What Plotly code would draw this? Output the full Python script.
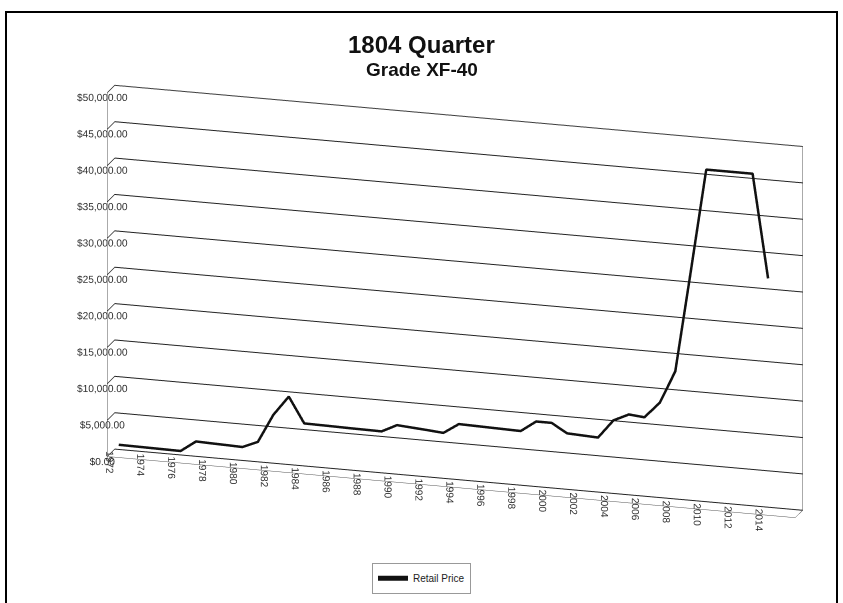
import plotly.graph_objects as go

years = list(range(1972, 2015))
retail_price = [
    1200, 1175, 1150, 1125, 1100,      # 1972-1976
    2600, 2530, 2470, 2400, 3300,      # 1977-1981
    7200, 9900, 6400, 6370, 6340,      # 1982-1986
    6300, 6280, 6250, 7300, 7140,      # 1987-1991
    6980, 6800, 8200, 8150, 8100,      # 1992-1996
    8050, 8000, 9500, 9500, 8250,      # 1997-2001
    8150, 8050, 10600, 11600, 11400,   # 2002-2006
    13600, 18100, 32000, 46200, 46200, # 2007-2011
    46200, 46200, 32000                # 2012-2014
]
tick_years = list(range(1972, 2015, 2))
tick_labels = [str(y) for y in tick_years]
price_ticks = list(range(0, 50001, 5000))
price_labels = ["${:,.2f}".format(v) for v in price_ticks]

FONT = "Liberation Sans, Arial, sans-serif"

fig = go.Figure()
fig.add_trace(go.Scatter3d(
    x=years, y=[0.5] * len(years), z=retail_price,
    mode="lines", name="Retail Price",
    line=dict(color="#111111", width=5),
))

r = 1.667
k = 1.2
fig.update_layout(
    width=843, height=603,
    margin=dict(l=0, r=0, t=0, b=0),
    paper_bgcolor="white",
    font=dict(family=FONT, color="#222222"),
    showlegend=True,
    legend=dict(x=0.5, y=0.041, xanchor="center", yanchor="middle",
                bordercolor="#999999", borderwidth=1, itemwidth=30,
                font=dict(size=10, family=FONT)),
    scene=dict(
        domain=dict(x=[0.08, 1.0], y=[0.0, 1.0]),
        aspectmode="manual",
        aspectratio=dict(x=1.985 * k, y=0.072 * k, z=1.053 * k),
        camera=dict(eye=dict(x=0.274 * r, y=-0.915 * r, z=0.297 * r),
                    center=dict(x=0, y=0, z=0),
                    up=dict(x=0, y=0, z=1),
                    projection=dict(type="orthographic")),
        xaxis=dict(title=dict(text=""), range=[1971.5, 2016],
                   tickvals=tick_years, ticktext=tick_labels, tickangle=90,
                   showgrid=False, showline=True, linecolor="#555555", mirror=True,
                   showbackground=True, backgroundcolor="white",
                   tickfont=dict(size=11, family=FONT, color="#333333"),
                   showspikes=False, zeroline=False),
        yaxis=dict(title=dict(text=""), range=[0, 1], showticklabels=False,
                   showgrid=False, showline=True, linecolor="#555555",
                   showbackground=True, backgroundcolor="white",
                   ticks="", showspikes=False, zeroline=False),
        zaxis=dict(title=dict(text=""), range=[0, 50000],
                   tickvals=price_ticks, ticktext=price_labels, tickangle=0,
                   showgrid=True, gridcolor="#222222", gridwidth=2,
                   showline=True, linecolor="#555555", mirror=True,
                   showbackground=True, backgroundcolor="white",
                   tickfont=dict(size=11, family=FONT, color="#333333"),
                   showspikes=False, zeroline=False),
    ),
    annotations=[
        dict(text="<b>1804 Quarter</b>", x=0.5, y=1 - 45 / 603, xref="paper", yref="paper",
             showarrow=False, font=dict(size=24, family=FONT, color="#111111"),
             xanchor="center", yanchor="middle"),
        dict(text="<b>Grade XF-40</b>", x=0.5, y=1 - 69 / 603, xref="paper", yref="paper",
             showarrow=False, font=dict(size=19, family=FONT, color="#111111"),
             xanchor="center", yanchor="middle"),
    ],
    shapes=[dict(type="rect", xref="paper", yref="paper",
                 x0=6 / 843, x1=837 / 843, y0=-0.05, y1=1 - 12 / 603,
                 line=dict(color="black", width=2), layer="above")],
)

fig.write_html("out.html", config={"displayModeBar": False},
               post_script="document.body.style.margin='0px';")
